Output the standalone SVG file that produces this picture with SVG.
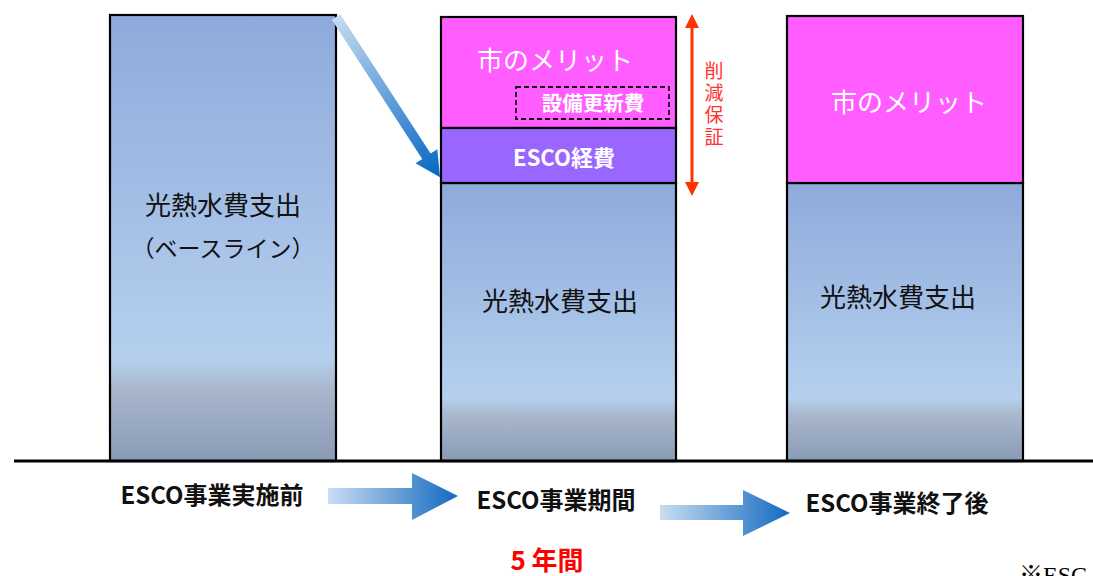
<svg xmlns="http://www.w3.org/2000/svg" width="1093" height="576" viewBox="0 0 1093 576">
<style>
.bar{stroke:#000;stroke-width:2.2}
.jp{font-family:"Noto Sans CJK JP","Noto Sans",sans-serif}
.w{fill:#fff;font-size:26px;text-anchor:middle}
.k{fill:#111;font-size:26px;text-anchor:middle}
.lbl{fill:#111;font-size:24px;font-weight:bold;text-anchor:middle}
</style>
<defs>
<linearGradient id="bg" x1="0" y1="0" x2="0" y2="1">
<stop offset="0" stop-color="#8eaadb"/>
<stop offset="0.77" stop-color="#b5d0ee"/>
<stop offset="0.84" stop-color="#a8b6cb"/>
<stop offset="1" stop-color="#8a9bb7"/>
</linearGradient>
<linearGradient id="ag" x1="0" y1="0" x2="1" y2="0">
<stop offset="0" stop-color="#c8ddf1"/>
<stop offset="1" stop-color="#1369c2"/>
</linearGradient>
<linearGradient id="dg" gradientUnits="userSpaceOnUse" x1="0" y1="0" x2="191" y2="0">
<stop offset="0" stop-color="#c6dcf0"/>
<stop offset="1" stop-color="#0566c4"/>
</linearGradient>
</defs>
<rect width="1093" height="576" fill="#fff"/>

<g id="bar-before">
<rect class="bar" x="110" y="15" width="226" height="446" fill="url(#bg)"/>
<text class="jp k" x="223" y="215">光熱水費支出</text>
<text class="jp" x="223" y="257" fill="#111" font-size="23" text-anchor="middle">（ベースライン）</text>
</g>

<g id="bar-during">
<rect class="bar" x="441" y="183" width="235" height="278" fill="url(#bg)"/>
<rect class="bar" x="441" y="17" width="235" height="111" fill="#ff5dff"/>
<rect class="bar" x="441" y="128" width="235" height="55" fill="#9966ff"/>
<text class="jp w" x="555" y="70">市のメリット</text>
<rect x="516" y="87" width="153" height="32" fill="none" stroke="#111" stroke-width="1.8" stroke-dasharray="5,3"/>
<text class="jp" x="593" y="111" fill="#fff" font-size="20.5" font-weight="bold" text-anchor="middle">設備更新費</text>
<text class="jp" x="564" y="166" fill="#fff" font-size="22" font-weight="bold" text-anchor="middle">ESCO経費</text>
<text class="jp k" x="560" y="311">光熱水費支出</text>
</g>

<g id="bar-after">
<rect class="bar" x="787" y="183" width="236" height="278" fill="url(#bg)"/>
<rect class="bar" x="787" y="16" width="236" height="167" fill="#ff5dff"/>
<text class="jp w" x="909" y="112">市のメリット</text>
<text class="jp k" x="898" y="307">光熱水費支出</text>
</g>

<g id="baseline">
<line x1="14" y1="461" x2="1093" y2="461" stroke="#000" stroke-width="3"/>
</g>

<g id="guarantee">
<line x1="692" y1="26" x2="692" y2="184" stroke="#ff3300" stroke-width="3"/>
<polygon points="692,14 685,28 699,28" fill="#ff3300"/>
<polygon points="692,196 685,182 699,182" fill="#ff3300"/>
<text class="jp" x="714" y="61" fill="#ff3333" font-size="19" writing-mode="vertical-rl" letter-spacing="3">削減保証</text>
</g>

<g id="connectors">
<g transform="translate(336,17) rotate(57)">
<polygon points="0,-5 166,-5 166,-13 191,0 166,13 166,5 0,5" fill="url(#dg)"/>
</g>
<polygon points="328,488 412,488 412,473 458,496 412,520 412,504 328,504" fill="url(#ag)"/>
<polygon points="660,505 743,505 743,490 790,513 743,536 743,520 660,520" fill="url(#ag)"/>
</g>

<g id="labels">
<text class="jp lbl" x="212" y="504">ESCO事業実施前</text>
<text class="jp lbl" x="556" y="509">ESCO事業期間</text>
<text class="jp lbl" x="897" y="512">ESCO事業終了後</text>
<text class="jp" x="547" y="570" fill="#ff0000" font-size="26" font-weight="bold" text-anchor="middle">5 年間</text>
<text x="1019" y="583" font-family="'Liberation Serif','Noto Serif CJK JP',serif" font-size="24" fill="#000">※ESC</text>
</g>
</svg>
